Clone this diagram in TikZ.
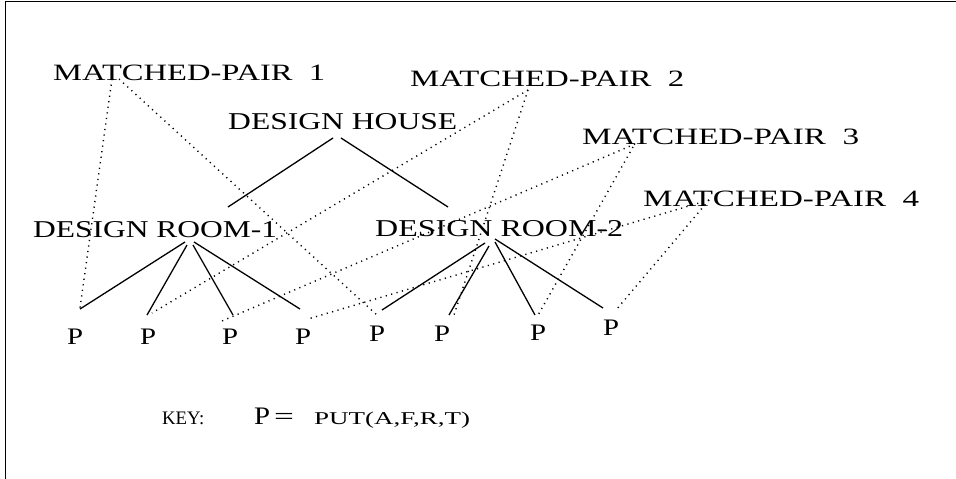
\documentclass[tikz,border=0pt]{standalone}
\usepackage{fontspec}
\setmainfont{Liberation Serif}
\usepackage{graphicx}
\newcommand{\fitlbl}[3]{\resizebox{#1pt}{#2pt}{#3}}
\begin{document}
\begin{tikzpicture}[x=1pt,y=-1pt,
  lbl/.style={inner sep=0pt, anchor=base west, font=\fontsize{22}{24}\selectfont},
  tree/.style={line width=1.3pt},
  match/.style={line width=1.4pt, dash pattern=on 1.2pt off 4.4pt},
  framestyle/.style={line width=1.6pt}]
\useasboundingbox (0,0) rectangle (956,479);
% frame
\coordinate (fbl) at (5.5,479);
\coordinate (ftl) at (5.5,1.5);
\coordinate (ftr) at (956,1.5);
\draw[framestyle] (fbl) -- (ftl) -- (ftr);
% labels
\node[lbl] (mp1) at (53,81) {\fitlbl{272}{15.5}{MATCHED-PAIR\ \ 1}};
\node[lbl] (mp2) at (410,86) {\fitlbl{274}{15.5}{MATCHED-PAIR\ \ 2}};
\node[lbl] (mp3) at (582,144) {\fitlbl{277}{15.5}{MATCHED-PAIR\ \ 3}};
\node[lbl] (mp4) at (643,206) {\fitlbl{276}{15.5}{MATCHED-PAIR\ \ 4}};
\node[lbl] (house) at (228,129) {\fitlbl{229}{16}{DESIGN HOUSE}};
\node[lbl] (room1) at (33,237) {\fitlbl{244}{16}{DESIGN ROOM-1}};
\node[lbl] (room2) at (375,236) {\fitlbl{248}{16}{DESIGN ROOM-2}};
\node[lbl] (p1) at (67,344) {\fitlbl{16}{15.5}{P}};
\node[lbl] (p2) at (140,344) {\fitlbl{16}{15.5}{P}};
\node[lbl] (p3) at (222,344) {\fitlbl{16}{15.5}{P}};
\node[lbl] (p4) at (295,344) {\fitlbl{16}{15.5}{P}};
\node[lbl] (p5) at (369,341) {\fitlbl{16}{15.5}{P}};
\node[lbl] (p6) at (434,341) {\fitlbl{16}{15.5}{P}};
\node[lbl] (p7) at (530,340) {\fitlbl{16}{15.5}{P}};
\node[lbl] (p8) at (603,335) {\fitlbl{16}{15.5}{P}};
\node[lbl] (key) at (162,424) {\fitlbl{42}{12.5}{KEY:}};
\node[lbl] (keyp) at (254,424) {\fitlbl{16}{16.5}{P}};
\node[lbl] (keyeq) at (274,424) {\scalebox{1.6}[1.1]{=}};
\node[lbl] (put) at (314,424) {\fitlbl{156}{12.5}{PUT(A,F,R,T)}};
% connector end points
\coordinate (hl) at (333,138);
\coordinate (hr) at (341,138);
\coordinate (r1t) at (228,207);
\coordinate (r2t) at (448,207);
\coordinate (r1a) at (185,242);
\coordinate (r1b) at (187,245);
\coordinate (r1c) at (193,245);
\coordinate (r1d) at (194,242);
\coordinate (r2a) at (485,243);
\coordinate (r2b) at (489,246);
\coordinate (r2c) at (495,242);
\coordinate (r2d) at (495,239);
\coordinate (p1s) at (80,309);
\coordinate (p2s) at (147,315);
\coordinate (p3s) at (233,315);
\coordinate (p4s) at (300,309);
\coordinate (p5s) at (382,310);
\coordinate (p6s) at (449,315);
\coordinate (p7s) at (535,315);
\coordinate (p8s) at (603,308);
\coordinate (p1d) at (80,308);
\coordinate (p2d) at (152,313);
\coordinate (p3d) at (222,321);
\coordinate (p4d) at (308,319);
\coordinate (p5d) at (378,316);
\coordinate (p6d) at (454,315);
\coordinate (p7d) at (537,317);
\coordinate (p8d) at (616,310);
\coordinate (m1a) at (112,79);
\coordinate (m1b) at (119,79);
\coordinate (m2) at (528,90);
\coordinate (m3a) at (635,144);
\coordinate (m3b) at (633,147);
\coordinate (m4) at (709,200);
% tree
\draw[tree] (hl) -- (r1t);
\draw[tree] (hr) -- (r2t);
\draw[tree] (r1a) -- (p1s);
\draw[tree] (r1b) -- (p2s);
\draw[tree] (r1c) -- (p3s);
\draw[tree] (r1d) -- (p4s);
\draw[tree] (r2a) -- (p5s);
\draw[tree] (r2b) -- (p6s);
\draw[tree] (r2c) -- (p7s);
\draw[tree] (r2d) -- (p8s);
% matched pairs
\draw[match] (m1a) -- (p1d);
\draw[match] (m1b) -- (p5d);
\draw[match] (m2) -- (p2d);
\draw[match] (m2) -- (p6d);
\draw[match] (m3a) -- (p3d);
\draw[match] (m3b) -- (p7d);
\draw[match] (m4) -- (p4d);
\draw[match] (m4) -- (p8d);
\end{tikzpicture}
\end{document}
